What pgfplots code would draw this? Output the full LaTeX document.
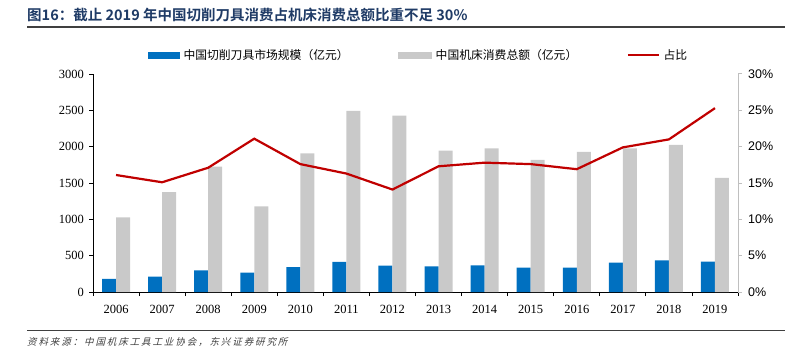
\documentclass[border=0pt]{standalone}
\usepackage{pgfplots}
\pgfplotsset{compat=1.18}
\usepackage{fontspec}
\setmainfont{Liberation Serif}
\newfontfamily\arialfont{Liberation Sans}
\newfontfamily\cjk{Noto Sans CJK SC}
\newfontfamily\cjkbold{Noto Sans CJK SC Bold}
\newfontfamily\cjkit{Noto Sans CJK SC}[FakeSlant=0.25,LetterSpace=20]
\definecolor{barblue}{HTML}{0070C0}
\definecolor{bargray}{HTML}{C9C9C9}
\definecolor{linered}{HTML}{C00000}
\definecolor{titleblue}{HTML}{1F3B66}
\definecolor{rulegray}{HTML}{404040}
\definecolor{axisgray}{HTML}{BFBFBF}
\begin{document}
\begin{tikzpicture}[x=1bp,y=1bp]
\path[use as bounding box] (0,0) rectangle (799,356);
\node[anchor=west, inner sep=0pt, text=titleblue, font=\cjkbold\fontsize{14.5bp}{16bp}\selectfont] at (27,341) {图16：截止 2019 年中国切削刀具消费占机床消费总额比重不足 30\%};
\draw[line width=1.5bp, rulegray] (27,329) -- (785,329);
\draw[line width=1bp, rulegray] (27,25.3) -- (785,25.3);
\node[anchor=west, inner sep=0pt, text=rulegray, font=\cjkit\fontsize{9.5bp}{11bp}\selectfont] at (27,14) {资料来源：中国机床工具工业协会，东兴证券研究所};

\begin{axis}[
  at={(93bp,64bp)}, anchor=south west,
  scale only axis, width=645bp, height=218bp,
  xmin=-0.5, xmax=13.5, ymin=0, ymax=3000,
  axis y line*=left, axis x line*=bottom,
  axis line style={black, line width=0.8bp},
  ybar, bar width=14bp,
  ytick={0,500,...,3000},
  /pgf/number format/1000 sep={},
  /pgf/number format/assume math mode=true,
  tick align=outside, major tick length=4bp,
  tick style={black, line width=0.8bp},
  yticklabel style={font=\fontsize{12.5bp}{14bp}\selectfont, inner sep=0pt, xshift=-5bp},
  xtick={-0.5,0.5,...,13.5}, xticklabels={,,},
  extra x ticks={0,1,...,13},
  extra x tick labels={2006,2007,2008,2009,2010,2011,2012,2013,2014,2015,2016,2017,2018,2019},
  extra x tick style={major tick length=0pt, tick label style={font=\fontsize{12.5bp}{14bp}\selectfont, inner sep=0pt, yshift=-13bp}},
  legend columns=3,
  legend style={draw=none, fill=none, inner sep=0pt, at={(axis description cs:0.085,1.087)}, anchor=west,
    font=\cjk\fontsize{11.8bp}{13bp}\selectfont,
    nodes={inner sep=1.5bp},
    /tikz/every odd column/.append style={column sep=2bp},
    /tikz/every even column/.append style={column sep=48bp}},
  legend cell align=left,
]
\addplot[fill=barblue, draw=none, bar shift=-7bp,
  legend image code/.code={\fill[barblue] (0bp,-3.5bp) rectangle (32bp,3.5bp);}]
  coordinates {(0,180) (1,211) (2,298) (3,266) (4,344) (5,413) (6,362) (7,352) (8,366) (9,334) (10,334) (11,403) (12,435) (13,417)};
\addlegendentry{中国切削刀具市场规模（亿元）}
\addplot[fill=bargray, draw=none, bar shift=7bp,
  legend image code/.code={\fill[bargray] (0bp,-3.5bp) rectangle (34bp,3.5bp);}]
  coordinates {(0,1028) (1,1376) (2,1725) (3,1179) (4,1908) (5,2491) (6,2427) (7,1945) (8,1978) (9,1817) (10,1927) (11,1978) (12,2025) (13,1572)};
\addlegendentry{中国机床消费总额（亿元）}
\addlegendimage{linered, line width=2.2bp, legend image code/.code={\draw[linered, line width=2.2bp] (0bp,0bp) -- (31bp,0bp);}}
\addlegendentry{占比}
\end{axis}

\begin{axis}[
  at={(93bp,64bp)}, anchor=south west,
  scale only axis, width=645bp, height=218bp,
  xmin=-0.5, xmax=13.5, ymin=0, ymax=30,
  axis y line*=right, axis x line=none,
  y axis line style={axisgray, line width=1bp},
  ytick={0,5,...,30},
  tick align=outside, major tick length=4bp,
  ytick style={axisgray, line width=1bp},
  /pgf/number format/assume math mode=true,
  yticklabel={\pgfmathprintnumber{\tick}\%},
  yticklabel style={font=\arialfont\fontsize{12.5bp}{14bp}\selectfont, inner sep=0pt, xshift=6bp},
]
\addplot[linered, line width=2.2bp, mark=none]
  coordinates {(0,16.1) (1,15.1) (2,17.1) (3,21.1) (4,17.6) (5,16.3) (6,14.1) (7,17.3) (8,17.8) (9,17.6) (10,16.9) (11,19.9) (12,21.0) (13,25.3)};
\end{axis}
\end{tikzpicture}
\end{document}
